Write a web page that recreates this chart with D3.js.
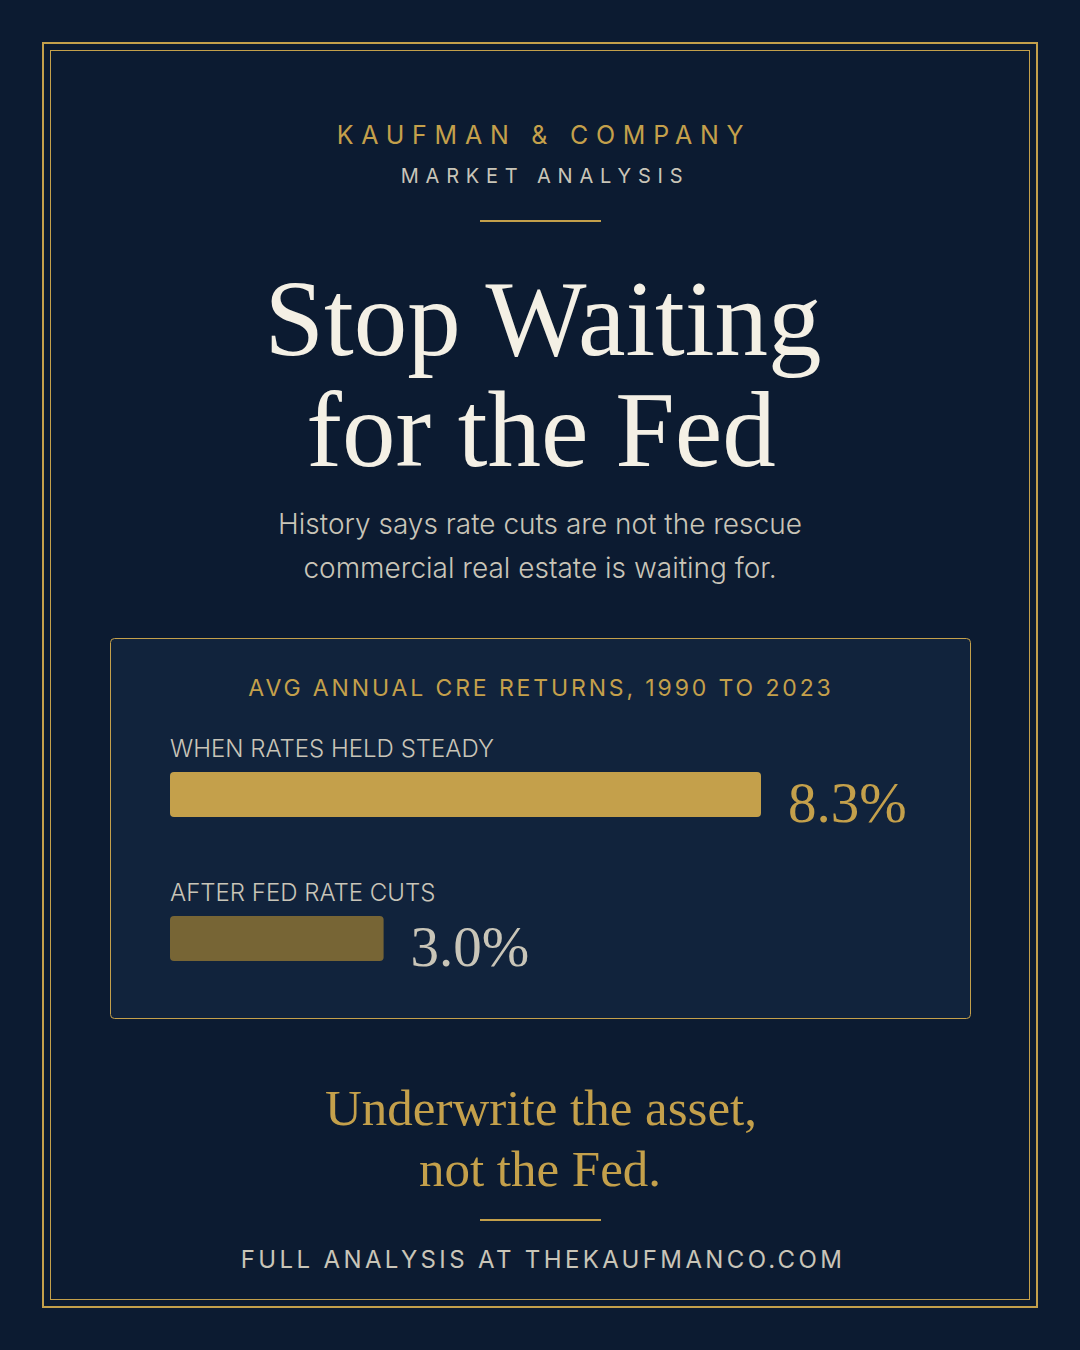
<!DOCTYPE html>
<html>
<head>
<meta charset="utf-8">
<script src="https://cdn.jsdelivr.net/npm/d3@7"></script>
<style>
  html, body { margin: 0; padding: 0; background: #0c1b31; }
  svg { display: block; }
</style>
</head>
<body>
<script>
// chart data
var categories = ["WHEN RATES HELD STEADY", "AFTER FED RATE CUTS"];
var returns = [8.3, 3.0];
var valueLabels = ["8.3%", "3.0%"];
var chartTitle = "AVG ANNUAL CRE RETURNS, 1990 TO 2023";

var W = 1080, H = 1350;
var gold = "#c4a04b", cream = "#f4f0e5", grey = "#c9c5b8";
var serif = "'Liberation Serif', 'DejaVu Serif', serif";
var sans = "Inter, 'Noto Sans', sans-serif";

var svg = d3.select("body").append("svg")
    .attr("width", W)
    .attr("height", H);

svg.append("rect").attr("width", W).attr("height", H).attr("fill", "#0c1b31");

// double frame
svg.append("rect").attr("x", 43).attr("y", 43).attr("width", 994).attr("height", 1264)
    .attr("fill", "none").attr("stroke", gold).attr("stroke-width", 2);
svg.append("rect").attr("x", 50.5).attr("y", 50.5).attr("width", 979).attr("height", 1249)
    .attr("fill", "none").attr("stroke", gold).attr("stroke-width", 1);

function spaced(txt, x, y, size, fill, spacing, family, weight) {
    return svg.append("text")
        .attr("x", x).attr("y", y)
        .attr("text-anchor", "middle")
        .attr("font-family", family || sans)
        .attr("font-size", size)
        .attr("font-weight", weight || 400)
        .attr("letter-spacing", spacing || 0)
        .attr("fill", fill)
        .text(txt);
}

// header
spaced("KAUFMAN & COMPANY", 544, 144, 25, gold, "0.31em");
spaced("MARKET ANALYSIS", 545, 183, 20, grey, "0.34em");
svg.append("rect").attr("x", 480).attr("y", 220).attr("width", 121).attr("height", 2).attr("fill", gold);

// title
spaced("Stop Waiting", 543, 355, 107, cream, 0, serif);
spaced("for the Fed", 541, 466, 107, cream, 0, serif);

spaced("History says rate cuts are not the rescue", 540, 534, 28, grey, 0, sans, 300);
spaced("commercial real estate is waiting for.", 540, 578, 28, grey, 0, sans, 300);

// panel
svg.append("rect").attr("x", 110.5).attr("y", 638.5).attr("width", 860).attr("height", 380)
    .attr("rx", 4).attr("fill", "#11233c").attr("stroke", gold).attr("stroke-width", 1);

spaced(chartTitle, 541, 696, 23, gold, "0.125em");

var x = d3.scaleLinear().domain([0, 8.3]).range([0, 591]);
var y = d3.scaleBand().domain(categories).range([733, 1021]).paddingInner(0).paddingOuter(0);

var rows = svg.append("g").selectAll("g")
    .data(categories)
    .enter()
    .append("g")
    .attr("transform", function(d) { return "translate(170," + y(d) + ")"; });

rows.append("text")
    .attr("x", 0).attr("y", 24)
    .attr("font-family", sans)
    .attr("font-size", 24)
    .attr("font-weight", 300)
    .attr("fill", grey)
    .text(function(d) { return d; });

rows.append("rect")
    .attr("x", 0).attr("y", 39)
    .attr("height", 45)
    .attr("rx", 4)
    .attr("width", function(d, i) { return x(returns[i]); })
    .attr("fill", function(d, i) { return i === 0 ? gold : "#776535"; });

rows.append("text")
    .attr("x", function(d, i) { return x(returns[i]) + 27; })
    .attr("y", 89)
    .attr("font-family", serif)
    .attr("font-size", 57)
    .attr("fill", function(d, i) { return i === 0 ? gold : grey; })
    .text(function(d, i) { return valueLabels[i]; });

// closing line
spaced("Underwrite the asset,", 541, 1125, 51, gold, 0, serif);
spaced("not the Fed.", 540, 1186, 51, gold, 0, serif);
svg.append("rect").attr("x", 480).attr("y", 1219).attr("width", 121).attr("height", 2).attr("fill", gold);

spaced("FULL ANALYSIS AT THEKAUFMANCO.COM", 543, 1268, 24, grey, "0.14em");
</script>
</body>
</html>
